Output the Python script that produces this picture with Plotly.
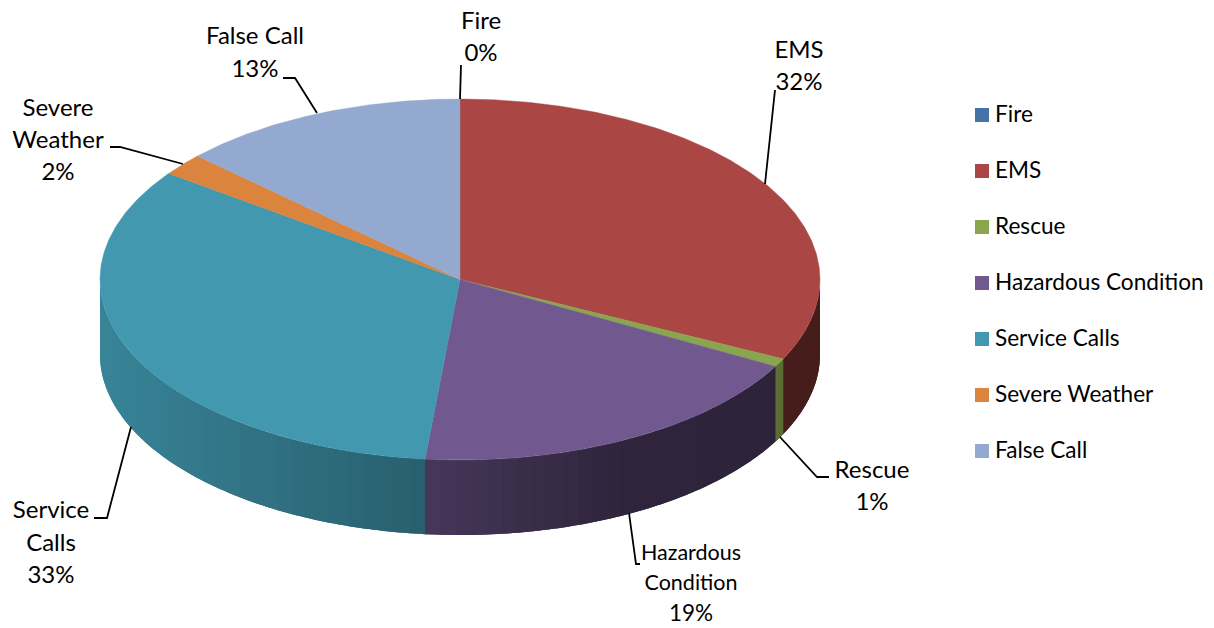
import numpy as np
import plotly.graph_objects as go

categories = ["Fire", "EMS", "Rescue", "Hazardous Condition", "Service Calls", "Severe Weather", "False Call"]
values = [0, 32.25, 0.75, 18.55, 33.45, 2.0, 13.0]
colors = ["#4572A7", "#AA4643", "#89A54E", "#71588F", "#4198AF", "#DB843D", "#93A9CF"]
side_gain = [1, 1.05, 1.65, 1, 1, 1, 1]

label_lines = [["Fire"], ["EMS"], ["Rescue"], ["Hazardous", "Condition"], ["Service", "Calls"], ["Severe", "Weather"], ["False Call"]]
label_x = [481, 799, 872, 691, 51, 58, 255]
label_top = [23, 52, 472, 555, 512, 110, 38]
label_step = [32, 32, 32, 30, 32.5, 32, 33]
label_sizes = [[24, 24], [24, 24], [24, 24], [21.5, 21.5, 22.5], [24, 24, 24], [24, 24, 24], [24, 24]]
leader_x = [[461, 460], [775, 765], [829, 817, 780], [640, 636, 629], [94, 107, 131], [110, 120, 183], [283, 295, 317]]
leader_y = [[65, 99], [90, 184], [477, 477, 437], [564, 564, 513], [518, 518, 427], [147, 147, 164], [78, 78, 113]]

CX, CY, RX, RY, DEPTH = 460, 279.5, 360, 180.5, 75
FONT = "Lato"
legend_x, legend_y0, legend_dy = 982, 115, 56
band = np.radians(2.5)
shade_x = [100, 425, 620, 820]
shade_f = [0.87, 0.63, 0.42, 0.40]


def px(theta):
    return CX + RX * np.sin(theta)


def py(theta):
    return CY - RY * np.cos(theta)


def shade(color, f):
    r, g, b = (int(color[i:i + 2], 16) for i in (1, 3, 5))
    return "rgb(%d,%d,%d)" % (min(255, r * f), min(255, g * f), min(255, b * f))


fig = go.Figure()
fracs = np.array(values) / sum(values)
edges = np.concatenate([[0], np.cumsum(fracs)]) * 2 * np.pi

# extruded rim, drawn in overlapping narrow bands that darken from left to right
for i, color in enumerate(colors):
    a, b = max(edges[i], np.pi / 2), min(edges[i + 1], 3 * np.pi / 2)
    if b <= a:
        continue
    n = max(1, int(np.ceil((b - a) / band)))
    cuts = np.linspace(a, b, n + 1)
    for t0, t1 in zip(cuts[:-1], cuts[1:]):
        t = np.linspace(t0, min(t1 + band, 3 * np.pi / 2), 7)
        x = np.concatenate([px(t), px(t[::-1])])
        y = np.concatenate([py(t), py(t[::-1]) + DEPTH])
        f = np.interp(px((t0 + t1) / 2), shade_x, shade_f) * side_gain[i]
        fig.add_trace(go.Scatter(x=x, y=y, mode="none", fill="toself", fillcolor=shade(color, f),
                                 hoverinfo="skip", showlegend=False))

# top face
for i, color in enumerate(colors):
    if values[i] == 0:
        continue
    t = np.linspace(edges[i], edges[i + 1], max(3, int(values[i] * 8)))
    fig.add_trace(go.Scatter(x=np.concatenate([[CX], px(t), [CX]]), y=np.concatenate([[CY], py(t), [CY]]),
                             mode="lines", fill="toself", fillcolor=color, line=dict(color=color, width=0.4),
                             name=categories[i], hoverinfo="name", showlegend=False))

# leader lines
for lx, ly in zip(leader_x, leader_y):
    fig.add_trace(go.Scatter(x=lx, y=ly, mode="lines", line=dict(color="#000000", width=1.8),
                             hoverinfo="skip", showlegend=False))

# data labels
for i, lines in enumerate(label_lines):
    rows = lines + ["%d%%" % round(values[i])]
    fig.add_trace(go.Scatter(x=[label_x[i]] * len(rows),
                             y=[label_top[i] + k * label_step[i] for k in range(len(rows))],
                             mode="text", text=rows, textposition="middle center",
                             textfont=dict(family=FONT, size=label_sizes[i], color="#000000"),
                             hoverinfo="skip", showlegend=False))

# legend
for i, name in enumerate(categories):
    fig.add_trace(go.Scatter(x=[legend_x], y=[legend_y0 + i * legend_dy], mode="markers",
                             marker=dict(symbol="square", size=14, color=colors[i]),
                             hoverinfo="skip", showlegend=False))
    fig.add_annotation(x=legend_x + 10.5, y=legend_y0 + i * legend_dy - 2, text=name, showarrow=False,
                       xanchor="left", yanchor="middle",
                       font=dict(family=FONT, size=22.6, color="#000000"))

fig.update_layout(width=1214, height=628, margin=dict(l=0, r=0, t=0, b=0),
                  paper_bgcolor="#ffffff", plot_bgcolor="#ffffff", showlegend=False,
                  xaxis=dict(range=[0, 1214], visible=False, fixedrange=True),
                  yaxis=dict(range=[628, 0], visible=False, fixedrange=True))
fig.write_html("out.html", config={"displayModeBar": False},
               post_script="document.body.style.margin='0';document.body.style.overflow='hidden';")
